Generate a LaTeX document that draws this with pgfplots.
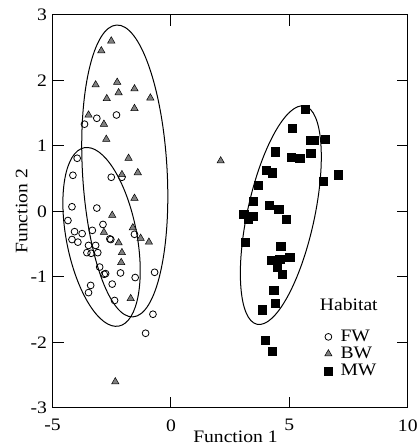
\documentclass[border=0pt]{standalone}
\usepackage{fontspec}
\setmainfont[FakeStretch=1.12]{Liberation Serif}
\usepackage{pgfplots}
\pgfplotsset{compat=1.18}
\begin{document}
\begin{tikzpicture}[font=\fontsize{17.5}{20}\selectfont]
\useasboundingbox (-52.5pt,-37pt) rectangle (363.5pt,407.7pt);
\begin{axis}[
    at={(0,0)}, anchor=south west,
    scale only axis,
    width=355pt,
    height=393pt,
    xmin=-5, xmax=10,
    ymin=-3, ymax=3,
    xtick={-5,0,5,10},
    xticklabels={-5,0,5,10},
    ytick={-3,-2,-1,0,1,2,3},
    yticklabels={-3,-2,-1,0,1,2,3},
    tick align=inside,
    major tick length=11pt,
    axis line style={line width=1pt},
    every tick/.style={black, line width=1pt},
    xticklabel style={yshift=-8pt},
    yticklabel style={xshift=-2pt},
    xlabel={Function 1},
    ylabel={Function 2},
    xlabel style={at={(axis description cs:0.515,0)}, anchor=center, yshift=-29pt},
    ylabel style={at={(axis description cs:-0.087,0.5)}, anchor=center},
    legend cell align=left,
    legend style={draw=none, fill=none, at={(rel axis cs:0.756,0.208)}, anchor=north west,
        row sep=0pt, font=\fontsize{17.5}{20}\selectfont,
        /tikz/every odd column/.append style={column sep=6pt}},
]

% FW
\addplot[only marks, mark=o, mark size=3.4pt, mark options={line width=0.8pt, fill=white}] coordinates {
    (-3.13,1.42) (-2.30,1.47) (-3.65,1.33) (-3.96,0.81) (-4.14,0.55)
    (-2.52,0.52) (-2.07,0.52) (-4.18,0.07) (-3.13,0.05) (-4.35,-0.14)
    (-2.87,-0.20) (-3.32,-0.29) (-4.07,-0.31) (-3.75,-0.34) (-1.54,-0.35)
    (-4.18,-0.43) (-3.93,-0.47) (-2.58,-0.42) (-2.54,-0.43) (-3.48,-0.52)
    (-3.18,-0.52) (-3.55,-0.63) (-3.37,-0.64) (-3.09,-0.63) (-3.01,-0.85)
    (-2.82,-0.96) (-2.76,-0.95) (-2.13,-0.94) (-1.51,-1.01) (-0.69,-0.93)
    (-2.48,-1.11) (-3.39,-1.13) (-3.48,-1.24) (-2.38,-1.36) (-0.76,-1.57)
    (-1.07,-1.86)
};
\addlegendentry{FW}

% BW
\addplot[only marks, mark=triangle*, mark size=4.2pt, mark options={draw=black, fill=black!50, line width=0.5pt}] coordinates {
    (-2.52,2.60) (-2.94,2.45) (-3.18,1.93) (-2.27,1.97) (-2.71,1.72)
    (-2.21,1.81) (-1.54,1.87) (-0.87,1.73) (-1.54,1.57) (-3.48,1.47)
    (-2.83,1.33) (-2.73,1.10) (-1.79,0.81) (-2.07,0.56) (-1.40,0.59)
    (-1.54,0.20) (-2.48,-0.06) (-1.61,-0.25) (-2.83,-0.32) (-1.28,-0.41)
    (-0.93,-0.47) (-2.21,-0.48) (-2.07,-0.63) (-2.10,-0.78) (-1.70,-1.33)
    (-2.35,-2.60) (2.10,0.77)
};
\addlegendentry{BW}

% MW
\addplot[only marks, mark=square*, mark size=4.1pt, mark options={black}] coordinates {
    (5.68,1.56) (5.11,1.27) (5.89,1.09) (6.03,1.08) (6.52,1.10)
    (4.41,0.91) (5.08,0.83) (5.44,0.81) (5.90,0.89) (4.03,0.63)
    (4.28,0.59) (6.42,0.46) (7.05,0.56) (3.67,0.40) (3.46,0.16)
    (4.14,0.09) (4.55,0.03) (3.07,-0.04) (3.46,-0.07) (3.25,-0.12)
    (4.87,-0.12) (3.15,-0.47) (4.63,-0.53) (4.24,-0.75) (4.59,-0.73)
    (5.01,-0.70) (4.49,-0.85) (4.70,-0.96) (4.34,-1.20) (4.41,-1.40)
    (3.86,-1.50) (3.99,-1.96) (4.28,-2.13)
};
\addlegendentry{MW}

% group ellipses
\draw[line width=1pt, rotate around={3.2:(axis cs:-1.95,0.616)}]
    (axis cs:-1.95,0.616) ellipse [x radius=1.787, y radius=2.23];
\draw[line width=1pt, rotate around={11:(axis cs:-2.93,-0.39)}]
    (axis cs:-2.93,-0.39) ellipse [x radius=1.487, y radius=1.386];
\draw[line width=1pt, rotate around={-12.3:(axis cs:4.64,-0.058)}]
    (axis cs:4.64,-0.058) ellipse [x radius=1.415, y radius=1.704];

\node at (rel axis cs:0.834,0.262) {Habitat};

\end{axis}
\end{tikzpicture}
\end{document}
